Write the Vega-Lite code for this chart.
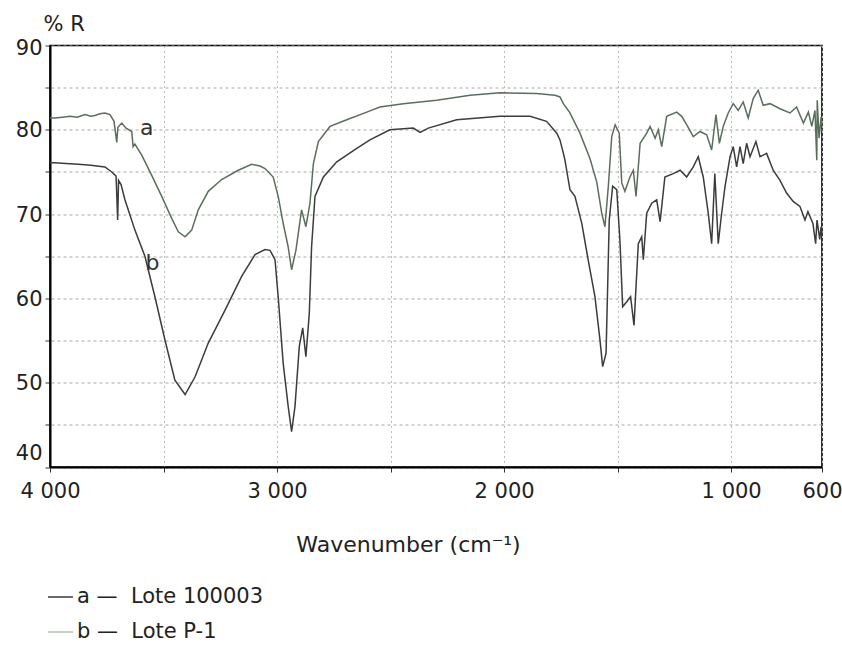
{
  "$schema": "https://vega.github.io/schema/vega-lite/v6.json",
  "width": 772,
  "height": 421.5,
  "autosize": "none",
  "padding": {"left": 50, "top": 45.5, "right": 20, "bottom": 181},
  "background": "white",
  "config": {
    "font": "DejaVu Sans",
    "view": {"stroke": "#000", "strokeWidth": 1.6},
    "axis": {"domainColor": "#000", "domainWidth": 2, "tickColor": "#333", "labelColor": "#222", "titleColor": "#222", "labelFont": "DejaVu Sans", "titleFont": "DejaVu Sans", "titleFontWeight": "normal"}
  },
  "datasets": {
    "spec": [
      {"s":"a","w":4000,"v":81.4},{"s":"a","w":3978,"v":81.4},{"s":"a","w":3945,"v":81.5},{"s":"a","w":3912,"v":81.6},{"s":"a","w":3880,"v":81.5},{"s":"a","w":3846,"v":81.8},{"s":"a","w":3820,"v":81.6},{"s":"a","w":3802,"v":81.7},{"s":"a","w":3780,"v":81.9},{"s":"a","w":3758,"v":82.0},{"s":"a","w":3736,"v":81.8},{"s":"a","w":3718,"v":81.0},{"s":"a","w":3706,"v":78.5},{"s":"a","w":3701,"v":80.3},{"s":"a","w":3684,"v":80.8},{"s":"a","w":3665,"v":80.2},{"s":"a","w":3640,"v":79.8},{"s":"a","w":3634,"v":78.0},{"s":"a","w":3626,"v":78.3},{"s":"a","w":3596,"v":77.0},{"s":"a","w":3552,"v":74.6},{"s":"a","w":3508,"v":72.1},{"s":"a","w":3464,"v":69.5},{"s":"a","w":3435,"v":67.9},{"s":"a","w":3405,"v":67.3},{"s":"a","w":3376,"v":68.1},{"s":"a","w":3347,"v":70.5},{"s":"a","w":3303,"v":72.7},{"s":"a","w":3244,"v":74.1},{"s":"a","w":3171,"v":75.2},{"s":"a","w":3112,"v":75.9},{"s":"a","w":3075,"v":75.7},{"s":"a","w":3053,"v":75.4},{"s":"a","w":3017,"v":74.4},{"s":"a","w":2995,"v":72.1},{"s":"a","w":2973,"v":68.9},{"s":"a","w":2951,"v":66.1},{"s":"a","w":2936,"v":63.4},{"s":"a","w":2917,"v":65.7},{"s":"a","w":2892,"v":70.5},{"s":"a","w":2873,"v":68.5},{"s":"a","w":2855,"v":71.3},{"s":"a","w":2840,"v":76.0},{"s":"a","w":2818,"v":78.6},{"s":"a","w":2767,"v":80.4},{"s":"a","w":2693,"v":81.2},{"s":"a","w":2605,"v":82.1},{"s":"a","w":2547,"v":82.7},{"s":"a","w":2444,"v":83.1},{"s":"a","w":2297,"v":83.5},{"s":"a","w":2150,"v":84.1},{"s":"a","w":2018,"v":84.4},{"s":"a","w":1857,"v":84.3},{"s":"a","w":1776,"v":84.1},{"s":"a","w":1754,"v":83.9},{"s":"a","w":1739,"v":83.1},{"s":"a","w":1710,"v":82.0},{"s":"a","w":1666,"v":79.6},{"s":"a","w":1622,"v":76.6},{"s":"a","w":1592,"v":73.8},{"s":"a","w":1570,"v":70.1},{"s":"a","w":1556,"v":68.5},{"s":"a","w":1541,"v":73.3},{"s":"a","w":1526,"v":79.2},{"s":"a","w":1511,"v":80.6},{"s":"a","w":1493,"v":79.6},{"s":"a","w":1482,"v":73.7},{"s":"a","w":1468,"v":72.7},{"s":"a","w":1446,"v":74.4},{"s":"a","w":1431,"v":75.2},{"s":"a","w":1419,"v":72.1},{"s":"a","w":1401,"v":78.4},{"s":"a","w":1372,"v":79.6},{"s":"a","w":1357,"v":80.4},{"s":"a","w":1335,"v":79.0},{"s":"a","w":1321,"v":80.0},{"s":"a","w":1306,"v":78.0},{"s":"a","w":1284,"v":81.6},{"s":"a","w":1240,"v":82.1},{"s":"a","w":1218,"v":81.6},{"s":"a","w":1196,"v":80.6},{"s":"a","w":1167,"v":79.2},{"s":"a","w":1137,"v":79.8},{"s":"a","w":1108,"v":79.4},{"s":"a","w":1086,"v":77.6},{"s":"a","w":1067,"v":81.8},{"s":"a","w":1052,"v":78.4},{"s":"a","w":1035,"v":80.4},{"s":"a","w":1013,"v":82.0},{"s":"a","w":991,"v":83.1},{"s":"a","w":969,"v":82.3},{"s":"a","w":947,"v":83.3},{"s":"a","w":925,"v":81.4},{"s":"a","w":903,"v":83.7},{"s":"a","w":881,"v":84.7},{"s":"a","w":859,"v":82.9},{"s":"a","w":829,"v":83.1},{"s":"a","w":785,"v":82.5},{"s":"a","w":741,"v":82.0},{"s":"a","w":712,"v":82.7},{"s":"a","w":682,"v":80.8},{"s":"a","w":660,"v":82.1},{"s":"a","w":645,"v":80.4},{"s":"a","w":631,"v":82.3},{"s":"a","w":623,"v":76.4},{"s":"a","w":621,"v":83.5},{"s":"a","w":613,"v":79.0},{"s":"a","w":604,"v":81.5},{"s":"a","w":600,"v":80.5},
      {"s":"b","w":4000,"v":76.1},{"s":"b","w":3978,"v":76.1},{"s":"b","w":3930,"v":76.0},{"s":"b","w":3875,"v":75.9},{"s":"b","w":3820,"v":75.8},{"s":"b","w":3758,"v":75.6},{"s":"b","w":3728,"v":75.0},{"s":"b","w":3709,"v":74.5},{"s":"b","w":3702,"v":69.3},{"s":"b","w":3698,"v":74.0},{"s":"b","w":3687,"v":73.5},{"s":"b","w":3670,"v":71.7},{"s":"b","w":3626,"v":68.1},{"s":"b","w":3582,"v":65.0},{"s":"b","w":3538,"v":60.2},{"s":"b","w":3494,"v":55.1},{"s":"b","w":3450,"v":50.3},{"s":"b","w":3405,"v":48.6},{"s":"b","w":3361,"v":50.7},{"s":"b","w":3303,"v":54.7},{"s":"b","w":3229,"v":58.6},{"s":"b","w":3156,"v":62.6},{"s":"b","w":3097,"v":65.2},{"s":"b","w":3053,"v":65.8},{"s":"b","w":3031,"v":65.7},{"s":"b","w":3009,"v":64.6},{"s":"b","w":2995,"v":60.2},{"s":"b","w":2973,"v":52.3},{"s":"b","w":2951,"v":47.2},{"s":"b","w":2936,"v":44.2},{"s":"b","w":2921,"v":47.2},{"s":"b","w":2902,"v":54.3},{"s":"b","w":2887,"v":56.5},{"s":"b","w":2873,"v":53.1},{"s":"b","w":2858,"v":58.2},{"s":"b","w":2848,"v":66.1},{"s":"b","w":2833,"v":72.1},{"s":"b","w":2796,"v":74.4},{"s":"b","w":2737,"v":76.2},{"s":"b","w":2649,"v":77.8},{"s":"b","w":2591,"v":78.8},{"s":"b","w":2503,"v":80.0},{"s":"b","w":2400,"v":80.2},{"s":"b","w":2370,"v":79.7},{"s":"b","w":2334,"v":80.2},{"s":"b","w":2209,"v":81.2},{"s":"b","w":2018,"v":81.6},{"s":"b","w":1886,"v":81.6},{"s":"b","w":1813,"v":81.0},{"s":"b","w":1768,"v":79.6},{"s":"b","w":1754,"v":78.8},{"s":"b","w":1739,"v":77.2},{"s":"b","w":1732,"v":76.4},{"s":"b","w":1717,"v":74.0},{"s":"b","w":1710,"v":72.9},{"s":"b","w":1688,"v":72.1},{"s":"b","w":1658,"v":68.9},{"s":"b","w":1630,"v":64.6},{"s":"b","w":1600,"v":60.2},{"s":"b","w":1578,"v":55.1},{"s":"b","w":1566,"v":51.9},{"s":"b","w":1551,"v":53.5},{"s":"b","w":1537,"v":69.3},{"s":"b","w":1522,"v":73.3},{"s":"b","w":1504,"v":72.9},{"s":"b","w":1490,"v":66.9},{"s":"b","w":1478,"v":59.0},{"s":"b","w":1460,"v":59.6},{"s":"b","w":1443,"v":60.2},{"s":"b","w":1428,"v":56.8},{"s":"b","w":1409,"v":66.5},{"s":"b","w":1394,"v":67.3},{"s":"b","w":1387,"v":64.6},{"s":"b","w":1372,"v":70.1},{"s":"b","w":1350,"v":71.3},{"s":"b","w":1328,"v":71.7},{"s":"b","w":1313,"v":69.1},{"s":"b","w":1292,"v":74.4},{"s":"b","w":1255,"v":74.8},{"s":"b","w":1225,"v":75.2},{"s":"b","w":1196,"v":74.4},{"s":"b","w":1167,"v":75.6},{"s":"b","w":1145,"v":76.8},{"s":"b","w":1123,"v":74.4},{"s":"b","w":1101,"v":70.1},{"s":"b","w":1086,"v":66.5},{"s":"b","w":1072,"v":74.8},{"s":"b","w":1057,"v":66.5},{"s":"b","w":1042,"v":70.1},{"s":"b","w":1027,"v":73.3},{"s":"b","w":1005,"v":76.8},{"s":"b","w":991,"v":78.0},{"s":"b","w":976,"v":75.6},{"s":"b","w":961,"v":78.0},{"s":"b","w":947,"v":76.0},{"s":"b","w":932,"v":78.4},{"s":"b","w":917,"v":76.8},{"s":"b","w":891,"v":78.6},{"s":"b","w":873,"v":76.8},{"s":"b","w":844,"v":77.2},{"s":"b","w":815,"v":75.2},{"s":"b","w":785,"v":74.0},{"s":"b","w":756,"v":72.5},{"s":"b","w":727,"v":71.5},{"s":"b","w":697,"v":70.9},{"s":"b","w":675,"v":69.3},{"s":"b","w":662,"v":70.3},{"s":"b","w":640,"v":68.9},{"s":"b","w":628,"v":66.5},{"s":"b","w":622,"v":69.3},{"s":"b","w":610,"v":67.0},{"s":"b","w":604,"v":68.5},{"s":"b","w":600,"v":67.5}
    ],
    "labels": [
      {"s":"a","w":3574,"v":80.2,"t":"a"},
      {"s":"b","w":3549,"v":64.2,"t":"b"}
    ]
  },
  "encoding": {
    "x": {
      "field": "w", "type": "quantitative",
      "scale": {"domain": [600, 4000], "reverse": true, "nice": false, "zero": false},
      "axis": {
        "title": "Wavenumber (cm⁻¹)",
        "values": [4000, 3500, 3000, 2500, 2000, 1500, 1000, 600],
        "labelExpr": "datum.value % 1000 == 0 || datum.value == 600 ? replace(format(datum.value, ','), ',', ' ') : ''",
        "labelFontSize": 21, "labelPadding": 8, "tickSize": 5, "labelFlush": false,
        "titleFontSize": 22, "titlePadding": 33, "titleX": 358, "titleAlign": "center",
        "grid": true, "gridColor": "#bdbdbd", "gridDash": [2, 3], "gridWidth": 1
      }
    },
    "y": {
      "field": "v", "type": "quantitative",
      "scale": {"domain": [40, 90], "nice": false, "zero": false},
      "axis": {
        "title": "% R",
        "titleAngle": 0, "titleAlign": "left", "titleBaseline": "middle",
        "titleX": -7, "titleY": -21, "titleFontSize": 21,
        "values": [40, 45, 50, 55, 60, 65, 70, 75, 80, 85, 90],
        "labelExpr": "datum.value % 10 == 0 ? datum.label : ''",
        "labelFontSize": 21, "labelPadding": 3, "tickSize": 5, "labelFlush": false,
        "labelBaseline": "middle",
        "labelOffset": {"condition": [{"test": "datum.value == 40", "value": -14}, {"test": "datum.value == 90", "value": 3}], "value": 1},
        "grid": true, "gridColor": "#a8a8a8", "gridDash": [3, 3], "gridWidth": 1.2
      }
    }
  },
  "layer": [
    {
      "data": {"name": "spec"},
      "mark": {"type": "line", "strokeWidth": 1.5},
      "encoding": {
        "color": {"field": "s", "type": "nominal", "scale": {"domain": ["a", "b"], "range": ["#5b6e5c", "#3c3c3c"]}, "legend": null}
      }
    },
    {
      "data": {"name": "labels"},
      "mark": {"type": "text", "fontSize": 22, "color": "#333", "font": "DejaVu Sans"},
      "encoding": {"text": {"field": "t"}}
    },
    {
      "data": {"name": "labels"},
      "mark": {"type": "point", "opacity": 0, "filled": false},
      "encoding": {
        "color": {
          "field": "s", "type": "nominal",
          "scale": {"domain": ["a", "b"], "range": ["#3a3a3a", "#a6c6ac"]},
          "legend": {
            "title": null, "orient": "none", "legendX": -3, "legendY": 538,
            "symbolType": "stroke", "symbolSize": 625, "symbolStrokeWidth": 1.5, "symbolOpacity": 1,
            "labelFontSize": 21, "labelColor": "#222", "labelFont": "DejaVu Sans", "labelOffset": 3, "labelLimit": 0,
            "rowPadding": 11,
            "labelExpr": "datum.label == 'a' ? 'a —\u00a0\u00a0Lote 100003' : 'b —\u00a0\u00a0Lote P-1'"
          }
        }
      }
    }
  ],
  "resolve": {"scale": {"color": "independent"}}
}
